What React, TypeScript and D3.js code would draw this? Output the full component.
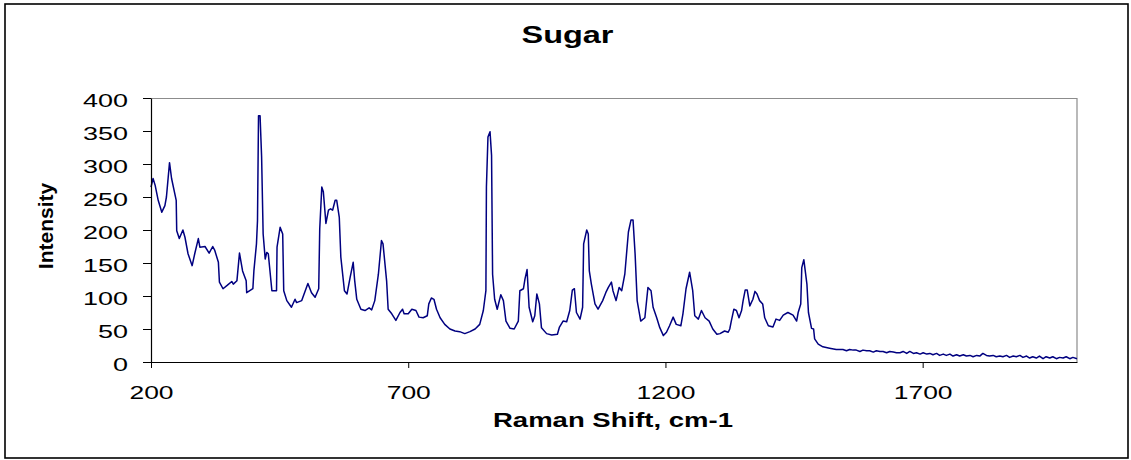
import React, { useEffect, useRef } from 'react';
import * as d3 from 'd3';

// Raman spectrum of sugar
const ramanShift = [
  200, 204, 208, 214, 221, 227, 230, 236, 240, 249, 250, 255, 262, 266, 272, 280, 285, 292, 295, 305,
  313, 320, 324, 331, 333, 340, 348, 357, 360, 367, 372, 378, 385, 386, 398, 400, 405, 407, 409, 412,
  415, 418, 422, 425, 428, 435, 444, 445, 451, 456, 458, 464, 473, 480, 483, 493, 505, 512, 519, 526,
  528, 532, 535, 540, 545, 549, 553, 558, 561, 566, 569, 576, 581, 587, 593, 596, 600, 608, 616, 624,
  629, 635, 642, 648, 651, 658, 661, 668, 676, 684, 689, 692, 700, 707, 715, 721, 729, 737, 740, 745,
  750, 755, 762, 771, 781, 791, 800, 810, 820, 830, 839, 846, 851, 852, 855, 859, 862, 864, 868, 873,
  880, 885, 890, 898, 906, 914, 917, 924, 927, 931, 935, 942, 946, 950, 955, 959, 969, 979, 990, 994,
  1001, 1008, 1014, 1019, 1023, 1027, 1034, 1039, 1041, 1047, 1050, 1052, 1056, 1063, 1069, 1078, 1084, 1089, 1095, 1098,
  1104, 1110, 1115, 1121, 1128, 1133, 1137, 1141, 1145, 1152, 1160, 1166, 1172, 1176, 1183, 1189, 1196, 1202, 1208, 1215,
  1221, 1230, 1234, 1240, 1247, 1253, 1257, 1264, 1270, 1277, 1285, 1292, 1300, 1306, 1315, 1322, 1325, 1328, 1333, 1338,
  1343, 1348, 1351, 1355, 1359, 1364, 1370, 1374, 1378, 1383, 1389, 1393, 1400, 1409, 1415, 1422, 1429, 1438, 1448, 1455,
  1458, 1463, 1465, 1469, 1475, 1478, 1484, 1488, 1490, 1497, 1506, 1519, 1532, 1545, 1552, 1558, 1565, 1571, 1578, 1584,
  1591, 1597, 1604, 1610, 1617, 1623, 1630, 1636, 1643, 1649, 1656, 1662, 1669, 1675, 1682, 1688, 1695, 1701, 1708, 1714,
  1720, 1727, 1733, 1740, 1746, 1753, 1759, 1766, 1772, 1779, 1785, 1792, 1798, 1805, 1811, 1817, 1824, 1830, 1837, 1843,
  1850, 1856, 1863, 1869, 1876, 1882, 1889, 1895, 1902, 1908, 1914, 1921, 1927, 1934, 1940, 1947, 1953, 1960, 1966, 1973,
  1979, 1986, 1992, 2000,
];

const intensity = [
  265, 278, 268, 245, 227, 237, 250, 302, 278, 245, 199, 187, 200, 189, 164, 146, 164, 187, 174, 175,
  165, 175, 169, 151, 121, 111, 116, 122, 118, 123, 165, 138, 123, 105, 111, 138, 179, 214, 373, 373,
  311, 194, 156, 166, 164, 108, 108, 174, 204, 194, 108, 93, 83, 95, 90, 93, 119, 105, 98, 111,
  202, 265, 258, 210, 230, 232, 230, 245, 245, 219, 159, 108, 103, 128, 151, 123, 95, 80, 78, 82,
  79, 93, 133, 184, 179, 123, 80, 73, 63, 75, 80, 73, 73, 80, 78, 68, 67, 70, 88, 97,
  95, 80, 67, 57, 50, 47, 46, 43, 46, 50, 57, 78, 108, 265, 341, 349, 313, 133, 95, 80,
  102, 93, 62, 51, 50, 62, 108, 111, 126, 140, 83, 61, 70, 103, 88, 52, 43, 41, 42, 53,
  62, 61, 78, 109, 111, 75, 65, 83, 179, 200, 194, 138, 118, 88, 80, 93, 105, 113, 121, 108,
  93, 113, 108, 133, 197, 215, 215, 164, 93, 62, 67, 113, 108, 83, 67, 52, 40, 45, 55, 68,
  57, 55, 73, 111, 136, 108, 70, 65, 78, 67, 62, 50, 42, 43, 47, 45, 50, 62, 80, 78,
  67, 78, 93, 109, 109, 85, 95, 107, 103, 93, 88, 67, 55, 53, 65, 63, 71, 75, 71, 62,
  75, 88, 143, 155, 118, 75, 51, 50, 35, 27, 23, 21, 19, 19, 17, 19, 18, 18, 16, 18,
  17, 17, 15, 17, 16, 16, 14, 16, 15, 14, 14, 16, 13, 16, 13, 14, 12, 14, 12, 13,
  11, 13, 10, 12, 10, 12, 9, 11, 9, 11, 9, 10, 8, 10, 9, 13, 10, 9, 10, 8,
  9, 8, 10, 7, 9, 8, 10, 7, 9, 6, 8, 6, 9, 5, 8, 6, 8, 5, 7, 6,
  8, 5, 7, 5,
];

const xTicks = [200, 700, 1200, 1700];
const yTicks = [0, 50, 100, 150, 200, 250, 300, 350, 400];

const width = 1131;
const height = 460;
const margin = { top: 98, right: 54, bottom: 98, left: 151 };
const font = 'Arial, "Liberation Sans", sans-serif';

export default function App() {
  const svgRef = useRef<SVGSVGElement | null>(null);

  useEffect(() => {
    const svg = d3.select(svgRef.current);
    svg.selectAll('*').remove();

    const innerWidth = width - margin.left - margin.right;
    const innerHeight = height - margin.top - margin.bottom;

    const x = d3.scaleLinear().domain([200, 2000]).range([0, innerWidth]);
    const y = d3.scaleLinear().domain([0, 400]).range([innerHeight, 0]);

    svg.append('rect')
      .attr('x', 5).attr('y', 4)
      .attr('width', 1123).attr('height', 454)
      .attr('fill', 'white')
      .attr('stroke', '#000').attr('stroke-width', 1.6);

    svg.append('text')
      .attr('x', 567.5).attr('y', 43)
      .attr('text-anchor', 'middle')
      .attr('font-family', font).attr('font-weight', 'bold').attr('font-size', 23)
      .attr('textLength', 92).attr('lengthAdjust', 'spacingAndGlyphs')
      .text('Sugar');

    const g = svg.append('g').attr('transform', `translate(${margin.left},${margin.top})`);

    // plot frame (top / right in grey)
    g.append('path')
      .attr('d', `M0,0.5H${innerWidth}V${innerHeight}`)
      .attr('fill', 'none')
      .attr('stroke', '#8c8c8c').attr('stroke-width', 1.2);

    const line = d3.line<number>()
      .x((_, i) => x(ramanShift[i]))
      .y(d => y(d));

    g.append('path')
      .datum(intensity)
      .attr('fill', 'none')
      .attr('stroke', '#000080')
      .attr('stroke-width', 1.5)
      .attr('stroke-linejoin', 'round')
      .attr('d', line);

    // y axis
    const yAxis = g.append('g')
      .call(d3.axisLeft(y).tickValues(yTicks).tickSize(8).tickSizeOuter(0).tickPadding(15));
    yAxis.select('.domain').attr('stroke', '#000').attr('stroke-width', 1.2);
    yAxis.selectAll('line').attr('stroke', '#000');
    yAxis.selectAll('text')
      .attr('font-family', font).attr('font-size', 18.5).attr('fill', '#000')
      .attr('dy', 8.5)
      .attr('textLength', (d: any) => String(d).length * 15)
      .attr('lengthAdjust', 'spacingAndGlyphs');

    // x axis
    const xAxis = g.append('g')
      .attr('transform', `translate(0,${innerHeight})`)
      .call(d3.axisBottom(x).tickValues(xTicks).tickFormat(d3.format('d')).tickSize(6).tickSizeOuter(0));
    xAxis.select('.domain').attr('stroke', '#000').attr('stroke-width', 1.2);
    xAxis.selectAll('line').attr('stroke', '#000');
    xAxis.selectAll('text')
      .attr('font-family', font).attr('font-size', 19).attr('fill', '#000')
      .attr('y', 37).attr('dy', 0)
      .attr('textLength', (d: any) => String(d).length * 14.7)
      .attr('lengthAdjust', 'spacingAndGlyphs');

    svg.append('text')
      .attr('x', 613).attr('y', 427)
      .attr('text-anchor', 'middle')
      .attr('font-family', font).attr('font-weight', 'bold').attr('font-size', 20.5)
      .attr('textLength', 240).attr('lengthAdjust', 'spacingAndGlyphs')
      .text('Raman Shift, cm-1');

    svg.append('text')
      .attr('transform', 'translate(53,226) rotate(-90)')
      .attr('text-anchor', 'middle')
      .attr('font-family', font).attr('font-weight', 'bold').attr('font-size', 21)
      .text('Intensity');
  }, []);

  return (
    <svg
      ref={svgRef}
      width={width}
      height={height}
      style={{ position: 'absolute', left: 0, top: 0, background: 'white' }}
    />
  );
}
